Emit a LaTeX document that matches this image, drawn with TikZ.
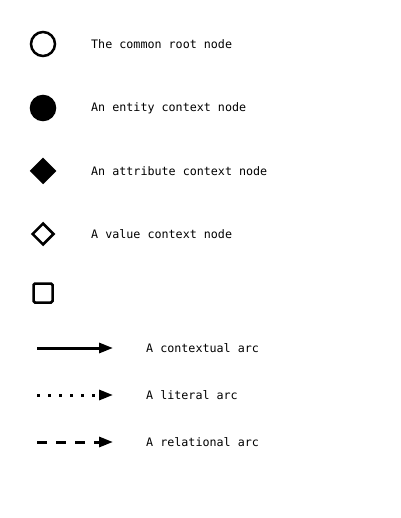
\documentclass[tikz,border=0pt]{standalone}
\usepackage{fontspec}
\setmonofont{DejaVu Sans Mono}
\usetikzlibrary{arrows.meta}
\usetikzlibrary{shapes.geometric}

\begin{document}
\begin{tikzpicture}[x=1pt,y=-1pt,
		sym/.style={line width=2.5pt, draw=black, inner sep=0pt, minimum size=24pt},
		legtext/.style={anchor=west, inner sep=0pt, font=\ttfamily\fontsize{11.7}{14}\selectfont},
		arc/.style={line width=3pt, -{Triangle[length=14pt,width=10pt]}}]
			\useasboundingbox (0,0) rectangle (400,518);
			% node symbols
			\node[sym, circle, fill=white] (root) at (43,44) {};
			\node[sym, circle, fill=black, minimum size=24pt] (entity) at (43,108) {};
			\node[sym, diamond, fill=black, minimum size=24pt] (attr) at (43,171) {};
			\node[sym, diamond, fill=white, minimum size=22pt] (value) at (43,234) {};
			\node[sym, rectangle, rounded corners=1.5pt, minimum size=19pt] (box) at (43,293) {};
			\node[legtext] (roottext) at (91,44) {The common root node};
			\node[legtext] (entitytext) at (91,108) {An entity context node};
			\node[legtext] (attrtext) at (91,171) {An attribute context node};
			\node[legtext] (valuetext) at (91,234) {A value context node};
			% arcs
			\coordinate (ctxa) at (37,348);
			\coordinate (ctxb) at (113,348);
			\coordinate (lita) at (37,395);
			\coordinate (litb) at (113,395);
			\coordinate (rela) at (37,442);
			\coordinate (relb) at (113,442);
			\draw[arc] (ctxa) -- (ctxb);
			\draw[arc, dash pattern=on 3pt off 8pt, line cap=butt] (lita) -- (litb);
			\draw[arc, dash pattern=on 10pt off 9pt] (rela) -- (relb);
			\node[legtext] (ctxtext) at (146,348) {A contextual arc};
			\node[legtext] (littext) at (146,395) {A literal arc};
			\node[legtext] (reltext) at (146,442) {A relational arc};
		\end{tikzpicture}
\end{document}
